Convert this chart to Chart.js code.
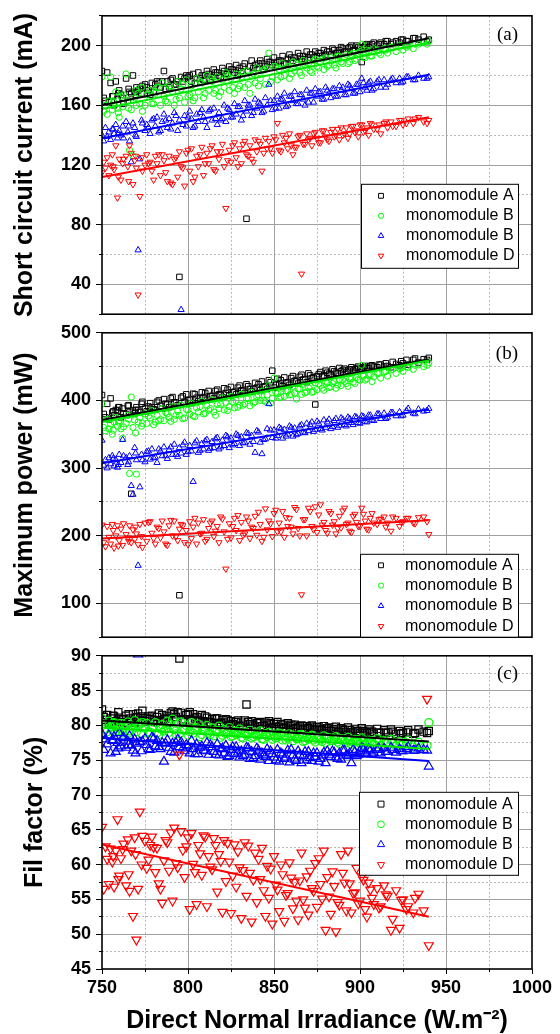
<!DOCTYPE html>
<html>
<head>
<meta charset="utf-8">
<script src="https://cdn.jsdelivr.net/npm/chart.js@4.4.1/dist/chart.umd.min.js"></script>
<style>
  html, body { margin: 0; padding: 0; background: #fff; overflow: hidden; }
  #wrap { position: relative; width: 560px; height: 1034px; }
  canvas { position: absolute; left: 0; }
</style>
</head>
<body>
<div id="wrap">
  <canvas id="cIsc" width="560" height="330" style="top:0"></canvas>
  <canvas id="cPmax" width="560" height="336" style="top:317px"></canvas>
  <canvas id="cFf" width="560" height="400" style="top:640px"></canvas>
</div>
<script>
// Irradiance of each measurement (shared by all three panels)
const dni = [
  750, 751, 752, 753, 754, 755, 756, 757, 758, 759,
  760, 761, 762, 764, 765, 766, 767, 768, 769, 770,
  771, 772, 773, 775, 776, 778, 779, 781, 782, 784,
  785, 786, 788, 789, 791, 792, 794, 795, 796, 798,
  799, 801, 802, 803, 805, 806, 808, 809, 811, 812,
  814, 815, 817, 818, 820, 821, 822, 824, 825, 827,
  828, 830, 831, 833, 834, 836, 837, 839, 840, 842,
  843, 845, 846, 847, 849, 850, 852, 853, 855, 856,
  858, 859, 861, 862, 864, 866, 867, 869, 870, 872,
  874, 875, 877, 879, 880, 882, 884, 886, 888, 889,
  891, 893, 895, 897, 899, 901, 903, 905, 907, 910,
  912, 914, 916, 918, 921, 923, 925, 928, 931, 934,
  937, 940, 939,
  756.5, 759.5, 762.5, 765.5, 769.5, 773.5, 777, 780, 783, 787,
  790, 793, 797, 800, 804, 807, 810, 813, 816, 819,
  823, 826, 829, 832, 835, 838, 841, 844, 848, 851,
  854, 857, 860, 863, 865, 868, 871, 873, 876, 878,
  881, 883, 885, 887, 890, 892, 894, 896, 898, 900,
  902, 904, 906, 908, 911, 915, 919, 924, 927, 932
];

// (a) short circuit current, mA
const iscA = [
  183, 165, 163, 182, 162, 175, 166, 160, 176, 164,
  170, 167, 165, 178, 163, 169, 168, 180, 169, 172,
  170, 171, 168, 174, 172, 167, 175, 174, 176, 172,
  176, 183, 176, 172, 178, 174, 176, 45, 179, 178,
  180, 180, 176, 181, 178, 182, 180, 177, 183, 181,
  179, 184, 182, 180, 185, 183, 181, 186, 184, 182,
  187, 185, 183, 188, 84, 186, 190, 187, 185, 190,
  188, 186, 191, 189, 187, 192, 189, 190, 193, 188,
  191, 194, 190, 192, 195, 191, 193, 196, 192, 194,
  196, 193, 195, 197, 194, 196, 198, 195, 197, 199,
  196, 198, 200, 197, 199, 189, 200, 199, 201, 200,
  202, 201, 203, 201, 203, 202, 204, 203, 205, 204,
  206, 204, 203,
  166, 168, 161, 171, 167, 173, 170, 169, 175, 171,
  177, 174, 176, 179, 175, 178, 180, 177, 182, 179,
  181, 184, 180, 186, 183, 185, 188, 184, 189, 186,
  190, 188, 192, 189, 193, 191, 194, 192, 195, 193,
  196, 194, 197, 195, 198, 196, 199, 197, 200, 198,
  199, 201, 200, 202, 201, 203, 202, 204, 203, 205
];
const iscB = [
  179, 156, 160, 154, 163, 179, 157, 162, 169, 158,
  152, 166, 159, 181, 163, 130, 157, 126, 165, 160,
  168, 161, 172, 160, 167, 170, 161, 168, 172, 160,
  175, 166, 162, 173, 169, 160, 176, 165, 171, 162,
  177, 167, 173, 163, 178, 169, 175, 165, 180, 170,
  176, 168, 179, 166, 177, 172, 182, 170, 178, 168,
  181, 173, 179, 172, 183, 168, 180, 175, 185, 178,
  183, 174, 185, 195, 179, 186, 177, 184, 188, 180,
  186, 178, 189, 183, 187, 180, 190, 185, 188, 182,
  191, 186, 189, 184, 192, 187, 190, 185, 193, 189,
  192, 188, 194, 190, 195, 201, 192, 196, 193, 197,
  194, 198, 195, 199, 196, 200, 197, 200, 198, 201,
  202, 203, 201,
  163, 155, 167, 158, 170, 156, 168, 161, 172, 163,
  171, 164, 174, 166, 165, 176, 168, 178, 170, 169,
  180, 172, 171, 182, 174, 181, 173, 184, 176, 186,
  179, 185, 181, 188, 182, 187, 183, 190, 185, 191,
  186, 192, 187, 193, 188, 194, 189, 195, 191, 196,
  192, 197, 193, 198, 195, 197, 199, 200, 199, 201
];
const iscC = [
  140, 136, 145, 139, 142, 137, 144, 141, 147, 138,
  143, 140, 146, 149, 142, 136, 122, 148, 145, 139,
  63, 124, 150, 143, 147, 141, 150, 146, 152, 143,
  149, 154, 145, 151, 148, 155, 143, 150, 23, 153,
  146, 156, 151, 145, 154, 149, 157, 152, 145, 156,
  150, 158, 147, 155, 151, 160, 149, 157, 152, 161,
  154, 159, 150, 163, 156, 160, 153, 164, 158, 161,
  155, 165, 160, 174, 157, 163, 166, 158, 164, 168,
  160, 166, 163, 169, 161, 167, 164, 170, 162, 168,
  171, 166, 169, 164, 172, 168, 171, 166, 173, 170,
  167, 174, 171, 168, 174, 178, 172, 175, 170, 176,
  172, 177, 174, 177, 175, 178, 176, 179, 177, 180,
  178, 179, 178,
  144, 141, 138, 146, 140, 148, 145, 151, 142, 150,
  144, 153, 147, 152, 146, 155, 149, 157, 151, 150,
  158, 152, 159, 153, 160, 155, 162, 156, 163, 158,
  164, 159, 166, 161, 167, 160, 168, 162, 169, 164,
  170, 165, 171, 166, 172, 167, 173, 168, 174, 169,
  175, 170, 176, 171, 177, 172, 178, 175, 179, 177
];
const iscD = [
  115, 122, 118, 125, 113, 120, 127, 117, 133, 98,
  124, 110, 121, 126, 119, 133, 128, 107, 123, 118,
  33, 99, 125, 120, 127, 122, 116, 126, 121, 113,
  127, 123, 109, 126, 107, 124, 112, 129, 119, 106,
  128, 116, 131, 109, 126, 119, 132, 113, 128, 121,
  133, 117, 129, 124, 134, 119, 91, 130, 122, 135,
  125, 131, 121, 136, 127, 133, 124, 137, 129, 134,
  116, 138, 131, 136, 128, 139, 148, 130, 140, 135,
  131, 141, 127, 132, 139, 47, 134, 141, 137, 133,
  142, 138, 135, 143, 139, 136, 144, 140, 137, 145,
  141, 138, 146, 142, 139, 147, 143, 140, 147, 144,
  141, 148, 145, 149, 146, 150, 147, 151, 148, 152,
  149, 150, 148,
  119, 112, 124, 109, 126, 116, 121, 110, 127, 115,
  108, 125, 118, 130, 112, 127, 121, 131, 116, 129,
  123, 133, 119, 134, 126, 122, 136, 128, 131, 137,
  129, 138, 133, 132, 140, 134, 138, 141, 135, 143,
  137, 142, 139, 144, 140, 145, 141, 146, 143, 147,
  142, 145, 148, 144, 147, 149, 146, 150, 148, 151
];

// (b) maximum power, mW
const pmaxA = [
  408, 380, 375, 395, 372, 403, 382, 378, 386, 385,
  390, 375, 388, 380, 392, 383, 262, 385, 381, 390,
  386, 383, 395, 388, 384, 396, 390, 386, 398, 392,
  388, 402, 394, 390, 405, 397, 393, 112, 404, 398,
  409, 401, 396, 410, 404, 399, 412, 405, 401, 414,
  407, 403, 416, 409, 405, 418, 411, 407, 420, 413,
  409, 422, 415, 411, 424, 417, 413, 426, 419, 415,
  428, 421, 417, 430, 444, 419, 432, 425, 421, 434,
  427, 423, 436, 429, 425, 438, 431, 427, 440, 433,
  394, 436, 442, 437, 444, 439, 446, 441, 448, 443,
  447, 444, 449, 446, 450, 447, 451, 448, 452, 449,
  453, 450, 451, 449, 454, 452, 455, 453, 460, 456,
  461, 463, 460,
  384, 390, 381, 393, 386, 398, 391, 387, 400, 395,
  403, 397, 406, 400, 409, 403, 411, 406, 414, 408,
  416, 412, 419, 414, 421, 417, 424, 420, 427, 423,
  430, 426, 433, 429, 435, 431, 437, 434, 439, 436,
  441, 438, 443, 440, 445, 442, 446, 444, 448, 446,
  449, 448, 451, 450, 453, 455, 457, 458, 460, 462
];
const pmaxB = [
  395, 360, 355, 372, 358, 365, 350, 368, 375, 362,
  370, 358, 344, 366, 378, 292, 405, 360, 371, 291,
  368, 375, 362, 380, 366, 374, 385, 368, 378, 372,
  388, 370, 380, 375, 391, 372, 384, 378, 393, 374,
  387, 380, 396, 377, 389, 383, 399, 380, 392, 386,
  401, 383, 394, 388, 404, 386, 397, 391, 406, 389,
  400, 393, 409, 395, 403, 392, 412, 398, 405, 400,
  414, 398, 408, 422, 403, 433, 410, 404, 418, 406,
  414, 408, 421, 411, 417, 409, 424, 413, 419, 412,
  426, 416, 422, 415, 428, 419, 425, 418, 430, 422,
  428, 421, 432, 425, 431, 452, 430, 437, 428, 440,
  433, 442, 436, 445, 440, 447, 443, 449, 446, 453,
  450, 456, 452,
  356, 368, 361, 372, 352, 366, 377, 364, 370, 382,
  369, 378, 373, 386, 376, 391, 381, 388, 378, 394,
  385, 398, 390, 393, 403, 396, 408, 400, 396, 412,
  405, 414, 409, 402, 417, 411, 421, 413, 424, 418,
  426, 420, 428, 423, 430, 425, 432, 427, 434, 430,
  436, 432, 438, 435, 440, 443, 446, 448, 450, 452
];
const pmaxC = [
  341, 304, 312, 300, 315, 306, 318, 303, 312, 301,
  320, 308, 342, 315, 305, 318, 274, 261, 330, 312,
  156, 272, 320, 309, 324, 313, 328, 316, 308, 325,
  318, 331, 314, 327, 320, 335, 317, 330, 322, 338,
  320, 333, 325, 280, 340, 323, 336, 328, 342, 326,
  339, 330, 345, 328, 341, 333, 348, 330, 344, 336,
  350, 333, 346, 338, 352, 335, 348, 323, 355, 338,
  321, 343, 358, 395, 345, 356, 348, 360, 344, 357,
  350, 362, 347, 359, 351, 364, 353, 366, 355, 368,
  357, 369, 358, 371, 360, 372, 361, 373, 363, 374,
  364, 375, 367, 376, 367, 377, 369, 378, 371, 380,
  373, 381, 375, 382, 377, 383, 378, 388, 381, 387,
  384, 388, 385,
  314, 305, 318, 309, 322, 312, 325, 315, 328, 318,
  331, 320, 334, 324, 337, 326, 340, 329, 343, 331,
  346, 334, 348, 337, 351, 339, 353, 342, 356, 344,
  358, 347, 360, 349, 362, 352, 364, 354, 366, 356,
  368, 358, 370, 360, 372, 362, 373, 364, 375, 366,
  376, 368, 378, 370, 380, 373, 382, 377, 385, 380
];
const pmaxD = [
  216, 190, 184, 214, 198, 188, 217, 182, 200, 215,
  193, 210, 186, 202, 197, 215, 190, 209, 195, 203,
  187, 217, 199, 219, 192, 221, 204, 188, 213, 197,
  222, 206, 186, 215, 200, 222, 193, 210, 217, 190,
  208, 221, 196, 213, 188, 219, 204, 224, 195, 211,
  222, 199, 214, 190, 225, 206, 151, 218, 197, 226,
  208, 193, 220, 203, 228, 196, 213, 229, 201, 217,
  192, 240, 209, 222, 199, 233, 206, 219, 236, 198,
  214, 226, 203, 242, 211, 113, 224, 200, 241, 214,
  243, 205, 246, 220, 208, 236, 216, 203, 229, 212,
  241, 219, 205, 232, 214, 241, 222, 209, 233, 217,
  225, 228, 219, 207, 226, 214, 221, 226, 219, 227,
  228, 202, 221,
  208, 185, 218, 192, 213, 183, 220, 196, 211, 188,
  223, 199, 215, 187, 226, 203, 192, 219, 207, 228,
  195, 214, 230, 201, 222, 211, 235, 198, 218, 238,
  206, 227, 213, 239, 200, 224, 236, 209, 231, 216,
  204, 233, 221, 211, 237, 217, 207, 229, 220, 214,
  232, 210, 226, 219, 224, 213, 228, 220, 226, 218
];

// (c) fill factor, %
const ffA = [
  82.3, 81.2, 80.8, 81.5, 80.4, 81.0, 80.2, 81.3, 80.6, 79.8,
  81.1, 80.5, 80.9, 81.4, 80.3, 81.0, 80.7, 81.6, 80.4, 81.2,
  81.7, 80.8, 81.3, 80.6, 81.1, 80.9, 81.4, 80.5, 81.2, 80.7,
  81.5, 80.9, 81.3, 80.4, 82.0, 81.6, 81.9, 89.6, 81.8, 80.9,
  81.5, 81.9, 80.7, 81.6, 81.2, 80.8, 81.5, 80.6, 81.1, 80.5,
  80.9, 80.3, 81.0, 80.2, 80.8, 80.4, 80.9, 80.1, 80.6, 80.0,
  80.5, 79.9, 80.4, 80.7, 83.0, 80.2, 80.6, 79.8, 80.3, 80.5,
  79.9, 80.4, 80.1, 80.6, 79.7, 80.2, 80.5, 79.8, 80.1, 79.6,
  80.3, 79.9, 79.5, 80.1, 79.7, 80.0, 79.4, 79.9, 79.6, 80.0,
  79.3, 79.8, 79.5, 79.9, 79.2, 79.7, 79.4, 79.8, 79.1, 79.6,
  79.3, 79.7, 79.0, 79.5, 79.2, 79.6, 79.0, 79.4, 79.1, 79.5,
  78.9, 79.3, 79.0, 79.4, 78.8, 79.2, 78.9, 79.3, 78.8, 79.4,
  79.1, 79.2, 78.9,
  81.4, 81.9, 80.9, 81.6, 81.1, 82.1, 81.3, 80.8, 81.7, 81.0,
  81.8, 81.2, 80.7, 81.6, 81.0, 80.6, 81.3, 80.5, 81.0, 80.4,
  80.8, 80.2, 80.7, 80.1, 80.5, 80.0, 80.4, 79.9, 80.3, 79.8,
  80.2, 79.7, 80.1, 79.6, 79.9, 79.5, 79.8, 79.4, 79.7, 79.3,
  79.6, 79.2, 79.5, 79.1, 79.4, 79.0, 79.3, 79.0, 79.2, 78.9,
  79.2, 78.9, 79.1, 78.8, 79.0, 78.9, 79.1, 78.8, 79.0, 78.9
];
const ffB = [
  81.0, 79.5, 80.2, 79.1, 80.6, 79.8, 79.3, 80.4, 79.0, 80.1,
  79.6, 80.3, 78.9, 79.9, 80.5, 79.2, 80.0, 79.4, 80.7, 79.1,
  79.8, 80.2, 78.8, 79.6, 80.3, 79.0, 79.7, 80.4, 78.9, 79.5,
  80.1, 79.2, 80.6, 79.0, 80.9, 79.4, 80.2, 78.8, 80.5, 79.3,
  80.0, 79.1, 80.4, 78.9, 79.7, 80.2, 78.7, 79.5, 80.0, 78.9,
  79.6, 78.5, 79.3, 79.9, 78.6, 79.4, 78.8, 79.7, 78.4, 79.1,
  78.7, 79.5, 78.3, 79.0, 78.6, 79.3, 78.2, 78.9, 78.5, 79.2,
  78.1, 78.8, 78.4, 79.0, 78.0, 78.7, 78.3, 78.9, 77.9, 78.6,
  78.2, 78.8, 77.8, 78.5, 78.1, 78.7, 77.7, 78.4, 78.0, 78.6,
  77.6, 78.3, 77.9, 78.5, 77.5, 78.2, 77.8, 78.4, 77.4, 78.1,
  77.7, 78.3, 77.3, 78.0, 77.6, 78.2, 77.2, 77.9, 77.5, 78.1,
  77.1, 77.8, 77.4, 78.0, 77.0, 77.7, 77.3, 77.9, 76.9, 77.6,
  77.2, 80.4, 77.1,
  80.3, 79.2, 80.0, 78.9, 79.7, 80.4, 79.0, 79.8, 78.7, 79.5,
  80.1, 78.8, 79.4, 78.6, 79.6, 78.4, 79.2, 78.7, 79.3, 78.3,
  79.0, 78.5, 79.1, 78.2, 78.8, 78.4, 78.9, 78.0, 78.6, 78.2,
  78.8, 77.9, 78.5, 78.1, 78.6, 77.8, 78.4, 77.9, 78.3, 77.7,
  78.2, 77.8, 78.1, 77.6, 78.0, 77.5, 77.9, 77.6, 77.8, 77.4,
  77.9, 77.5, 77.8, 77.3, 77.7, 77.4, 77.6, 77.2, 77.5, 77.3
];
const ffC = [
  78.8, 76.5, 78.0, 77.3, 78.6, 76.0, 77.8, 78.4, 76.2, 77.5,
  78.9, 77.0, 78.2, 76.8, 77.7, 78.5, 77.1, 76.4, 78.0, 77.4,
  90.2, 77.6, 76.3, 78.1, 77.2, 76.5, 78.3, 77.0, 77.8, 76.6,
  77.5, 74.8, 77.9, 76.8, 77.4, 76.1, 78.0, 76.9, 77.6, 76.3,
  77.2, 76.0, 77.8, 76.6, 77.3, 75.9, 77.0, 76.4, 77.5, 75.8,
  76.9, 76.2, 77.3, 75.7, 76.7, 76.0, 77.1, 75.6, 76.5, 75.9,
  76.9, 75.4, 76.3, 75.8, 76.8, 75.2, 76.2, 75.6, 76.7, 75.1,
  76.0, 75.5, 76.6, 74.9, 75.9, 75.4, 76.5, 74.8, 75.8, 75.2,
  76.4, 74.7, 75.7, 75.1, 76.3, 74.6, 75.6, 75.0, 76.2, 74.9,
  75.5, 76.0, 75.2, 76.1, 74.6, 75.8, 76.3, 75.4, 76.0, 75.1,
  76.4, 75.6, 74.6, 76.2, 75.8, 76.8, 76.1, 76.6, 75.9, 76.5,
  76.0, 76.7, 76.2, 76.8, 76.1, 76.6, 76.3, 76.9, 76.4, 76.7,
  76.5, 74.1, 76.4,
  77.9, 76.7, 78.3, 77.2, 76.0, 77.7, 76.6, 78.1, 76.9, 77.4,
  76.2, 77.5, 76.7, 77.0, 75.9, 76.8, 76.3, 77.2, 75.8, 76.6,
  75.5, 76.9, 76.1, 75.6, 76.7, 75.3, 76.4, 75.7, 76.3, 75.0,
  76.0, 75.4, 76.5, 74.9, 75.8, 76.2, 75.3, 76.0, 74.8, 75.7,
  76.3, 75.5, 76.1, 75.2, 76.4, 75.7, 76.0, 76.5, 75.6, 76.3,
  76.6, 75.9, 76.4, 76.1, 76.7, 76.2, 76.5, 76.3, 76.6, 76.4
];
const ffD = [
  65.4, 56.5, 62.6, 60.8, 57.2, 62.3, 60.4, 56.8, 62.0, 66.5,
  58.4, 60.9, 62.2, 57.0, 63.6, 56.2, 62.0, 52.6, 63.9, 49.2,
  56.5, 67.6, 60.0, 63.4, 59.5, 62.8, 64.0, 58.9, 62.4, 56.5,
  54.5, 60.6, 63.2, 59.1, 54.8, 65.3, 59.6, 75.8, 64.8, 58.2,
  62.6, 53.6, 64.5, 60.1, 54.3, 62.8, 58.5, 64.2, 54.0, 61.2,
  59.3, 63.8, 56.1, 61.5, 53.2, 63.5, 57.6, 60.4, 53.0, 62.9,
  56.8, 59.6, 52.3, 63.2, 55.5, 58.8, 51.8, 61.7, 54.6, 57.9,
  62.4, 52.6, 59.8, 55.2, 51.5, 61.2, 56.4, 53.3, 58.6, 51.9,
  55.9, 60.3, 53.7, 57.5, 52.1, 61.7, 55.0, 58.3, 52.8, 56.6,
  60.2, 53.9, 57.2, 62.0, 50.6, 55.4, 59.0, 50.4, 54.2, 61.5,
  57.4, 62.0, 53.1, 56.0, 54.4, 58.3, 53.6, 57.4, 55.2, 56.6,
  54.0, 57.0, 55.5, 50.6, 56.3, 50.9, 55.0, 54.0, 53.1, 55.8,
  53.4, 48.4, 83.8,
  61.2, 57.9, 63.0, 58.6, 61.5, 64.1, 60.7, 62.5, 57.3, 63.5,
  64.6, 60.2, 62.1, 63.9, 58.9, 61.6, 64.0, 59.7, 62.8, 60.5,
  63.1, 58.4, 61.9, 59.2, 62.7, 57.8, 60.8, 56.3, 59.4, 57.1,
  60.0, 55.6, 58.1, 54.8, 57.7, 53.8, 59.1, 56.2, 60.9, 55.1,
  58.2, 52.9, 56.9, 54.6, 58.8, 53.4, 57.3, 55.9, 59.5, 54.8,
  57.8, 52.5, 56.4, 54.3, 53.8, 55.7, 52.2, 54.9, 53.6, 55.2
];

// linear fits, value at 750 and 940
const fitX = [750, 940];
const iscFitA = [160, 205];
const iscFitB = [157.5, 202];
const iscFitC = [138, 180.5];
const iscFitD = [112, 152];
const pmaxFitA = [371, 461];
const pmaxFitB = [368, 459];
const pmaxFitC = [307, 387];
const pmaxFitD = [196, 223];
const ffFitA = [80.7, 77.7];
const ffFitB = [79.7, 76.6];
const ffFitC = [78.2, 74.9];
const ffFitD = [62.9, 52.5];

const SERIES = [
  { label: "monomodule A", color: "#000000", line: "#000000", style: "rect", rot: 0 },
  { label: "monomodule B", color: "#00ff00", line: "#00e600", style: "circle", rot: 0 },
  { label: "monomodule B", color: "#0000ff", line: "#0000ff", style: "triangle", rot: 0 },
  { label: "monomodule D", color: "#ff0000", line: "#ff0000", style: "triangle", rot: 180 },
];

const SMALL = { rect: 3.9, circle: 3.1, triangle: 3.6 };
const LARGE = { rect: 5.1, circle: 4.0, triangle: 5.2 };
const GRID_MAJOR = "#a0a0a0";
const GRID_MINOR = "#b8b8b8";
const NONE = "rgba(0,0,0,0)";

Chart.defaults.font.family = '"Liberation Sans", Arial, sans-serif';
Chart.defaults.color = "#000";

function datasets(cols, fits, sizes, bw) {
  const out = [];
  cols.forEach((ys, i) => {
    const s = SERIES[i];
    out.push({
      label: s.label,
      data: dni.map((x, j) => ({ x, y: ys[j] })),
      showLine: false,
      pointStyle: s.style,
      pointRotation: s.rot,
      pointRadius: sizes[s.style],
      pointHoverRadius: sizes[s.style],
      pointBorderWidth: bw,
      pointBorderColor: s.color,
      pointBackgroundColor: NONE,
      order: 4 - i,
      clip: 0,
    });
  });
  // fit lines sit above the markers, green above black
  const fitOrder = [-9, -10, -8, -7];
  fits.forEach((ys, i) => {
    out.push({
      label: SERIES[i].label + " fit",
      data: fitX.map((x, j) => ({ x, y: ys[j] })),
      showLine: true,
      borderColor: SERIES[i].line,
      borderWidth: 2,
      pointRadius: 0,
      pointHoverRadius: 0,
      order: fitOrder[i],
    });
  });
  return out;
}

const isMult = (v, m) => Math.abs(v / m - Math.round(v / m)) < 1e-6;

function scales(p) {
  const edge = (v) => v === p.min || v === p.max;
  const xEdge = (v) => v === 750 || v === 1000;
  const tickFont = { size: 18, weight: "bold" };
  return {
    y: {
      type: "linear", position: "left", weight: 1, min: p.min, max: p.max,
      afterFit: (s) => { s.width = 102; },
      ticks: {
        stepSize: p.step, autoSkip: false, padding: 5, font: tickFont,
        callback: (v) => (isMult(v, p.major) ? String(v) : ""),
      },
      grid: {
        color: (c) => (isMult(c.tick.value, p.major) && !edge(c.tick.value) ? GRID_MAJOR : NONE),
        tickColor: (c) => (isMult(c.tick.value, p.major) ? "#000" : NONE),
        tickLength: 6,
      },
      border: { display: false },
      title: {
        display: true, text: p.title, font: { size: 25, weight: "bold" },
        padding: { top: p.titlePad, bottom: 0 },
      },
    },
    yMinor: {
      type: "linear", position: "left", weight: 0, min: p.min, max: p.max,
      afterFit: (s) => { s.width = 0; },
      ticks: { stepSize: p.step, autoSkip: false, display: false },
      grid: {
        color: (c) => (!isMult(c.tick.value, p.major) && !edge(c.tick.value) ? GRID_MINOR : NONE),
        tickColor: (c) => (!isMult(c.tick.value, p.major) ? "#000" : NONE),
        tickLength: 3,
      },
      border: { display: false, dash: [2, 2] },
    },
    x: {
      type: "linear", position: "bottom", weight: 1, min: 750, max: 1000,
      afterFit: (s) => { s.height = p.xLabels ? 71 : 0; },
      ticks: {
        display: p.xLabels, stepSize: 25, autoSkip: false, maxRotation: 0, padding: 3.5,
        font: tickFont, callback: (v) => (isMult(v, 50) ? String(v) : ""),
      },
      grid: {
        color: (c) => (isMult(c.tick.value, 50) && !xEdge(c.tick.value) ? GRID_MAJOR : NONE),
        tickColor: (c) => (isMult(c.tick.value, 50) ? "#000" : NONE),
        drawTicks: p.xLabels, tickLength: 5,
      },
      border: { display: false },
      title: {
        display: p.xLabels, text: "Direct Normal Irradiance (W.m\u207B\u00B2)",
        font: { size: 25, weight: "bold" }, padding: { top: 0, bottom: 4 },
      },
    },
    xMinor: {
      type: "linear", position: "bottom", weight: 0, min: 750, max: 1000,
      afterFit: (s) => { s.height = 0; },
      ticks: { stepSize: 25, autoSkip: false, display: false },
      grid: {
        color: (c) => (!isMult(c.tick.value, 50) ? GRID_MINOR : NONE),
        tickColor: (c) => (!isMult(c.tick.value, 50) ? "#000" : NONE),
        drawTicks: p.xLabels, tickLength: 3,
      },
      border: { display: false, dash: [2, 2] },
    },
  };
}

// frame, panel tag and boxed legend
function decor(p) {
  return {
    id: "decor",
    afterDraw(chart) {
      const { ctx, chartArea: a } = chart;
      ctx.save();
      ctx.lineWidth = 1.6;
      ctx.strokeStyle = "#000";
      ctx.strokeRect(a.left, a.top, a.right - a.left, a.bottom - a.top);

      ctx.font = '19px "Liberation Serif", "Times New Roman", serif';
      ctx.fillStyle = "#000";
      ctx.textAlign = "right";
      ctx.textBaseline = "middle";
      ctx.fillText(p.tag, a.right - 14, a.top + p.tagDy);

      const b = p.legend;
      const x0 = a.left + b.dx, y0 = a.top + b.dy;
      ctx.fillStyle = "#fff";
      ctx.fillRect(x0, y0, b.w, b.h);
      ctx.lineWidth = 1;
      ctx.strokeStyle = "#000";
      ctx.strokeRect(x0 + 0.5, y0 + 0.5, b.w, b.h);
      ctx.font = '16px "Liberation Sans", Arial, sans-serif';
      ctx.textAlign = "left";
      SERIES.forEach((s, i) => {
        const y = y0 + b.row0 + i * b.rowH;
        ctx.strokeStyle = s.color;
        ctx.fillStyle = NONE;
        ctx.lineWidth = 1;
        Chart.helpers.drawPoint(ctx, {
          pointStyle: s.style, rotation: s.rot, radius: b.marker[s.style], borderWidth: 1,
        }, x0 + b.mx, y);
        ctx.fillStyle = "#000";
        ctx.fillText(s.label, x0 + b.tx, y);
      });
      ctx.restore();
    },
  };
}

function panel(id, p) {
  new Chart(document.getElementById(id), {
    type: "scatter",
    data: { datasets: datasets(p.cols, p.fits, p.sizes, p.bw) },
    options: {
      responsive: false,
      animation: false,
      events: [],
      layout: { padding: { left: 0, right: 28, top: p.padTop, bottom: p.padBottom } },
      plugins: { legend: { display: false }, tooltip: { enabled: false } },
      scales: scales(p),
    },
    plugins: [decor(p)],
  });
}

panel("cIsc", {
  cols: [iscA, iscB, iscC, iscD],
  fits: [iscFitA, iscFitB, iscFitC, iscFitD],
  sizes: SMALL, bw: 1,
  min: 20, max: 220, step: 20, major: 40,
  title: "Short circuit current (mA)", titlePad: 10,
  xLabels: false, padTop: 8, padBottom: 7,
  tag: "(a)", tagDy: 19,
  legend: { dx: 259, dy: 168, w: 157, h: 84, row0: 12, rowH: 20, mx: 20, tx: 45,
    marker: { rect: 3.4, circle: 2.6, triangle: 3.2 } },
});

panel("cPmax", {
  cols: [pmaxA, pmaxB, pmaxC, pmaxD],
  fits: [pmaxFitA, pmaxFitB, pmaxFitC, pmaxFitD],
  sizes: SMALL, bw: 1,
  min: 50, max: 500, step: 50, major: 100,
  title: "Maximum power (mW)", titlePad: 10,
  xLabels: false, padTop: 14, padBottom: 7,
  tag: "(b)", tagDy: 21,
  legend: { dx: 258, dy: 221, w: 158, h: 83, row0: 11.5, rowH: 20.3, mx: 21, tx: 45,
    marker: { rect: 3.4, circle: 2.6, triangle: 3.2 } },
});

panel("cFf", {
  cols: [ffA, ffB, ffC, ffD],
  fits: [ffFitA, ffFitB, ffFitC, ffFitD],
  sizes: LARGE, bw: 1.2,
  min: 45, max: 90, step: 2.5, major: 5,
  title: "Fil factor (%)", titlePad: 20,
  xLabels: true, padTop: 14, padBottom: 0,
  tag: "(c)", tagDy: 18,
  legend: { dx: 257, dy: 136, w: 159, h: 83, row0: 12.3, rowH: 20.2, mx: 22, tx: 46,
    marker: { rect: 4.2, circle: 3.4, triangle: 4.2 } },
});
</script>
</body>
</html>
